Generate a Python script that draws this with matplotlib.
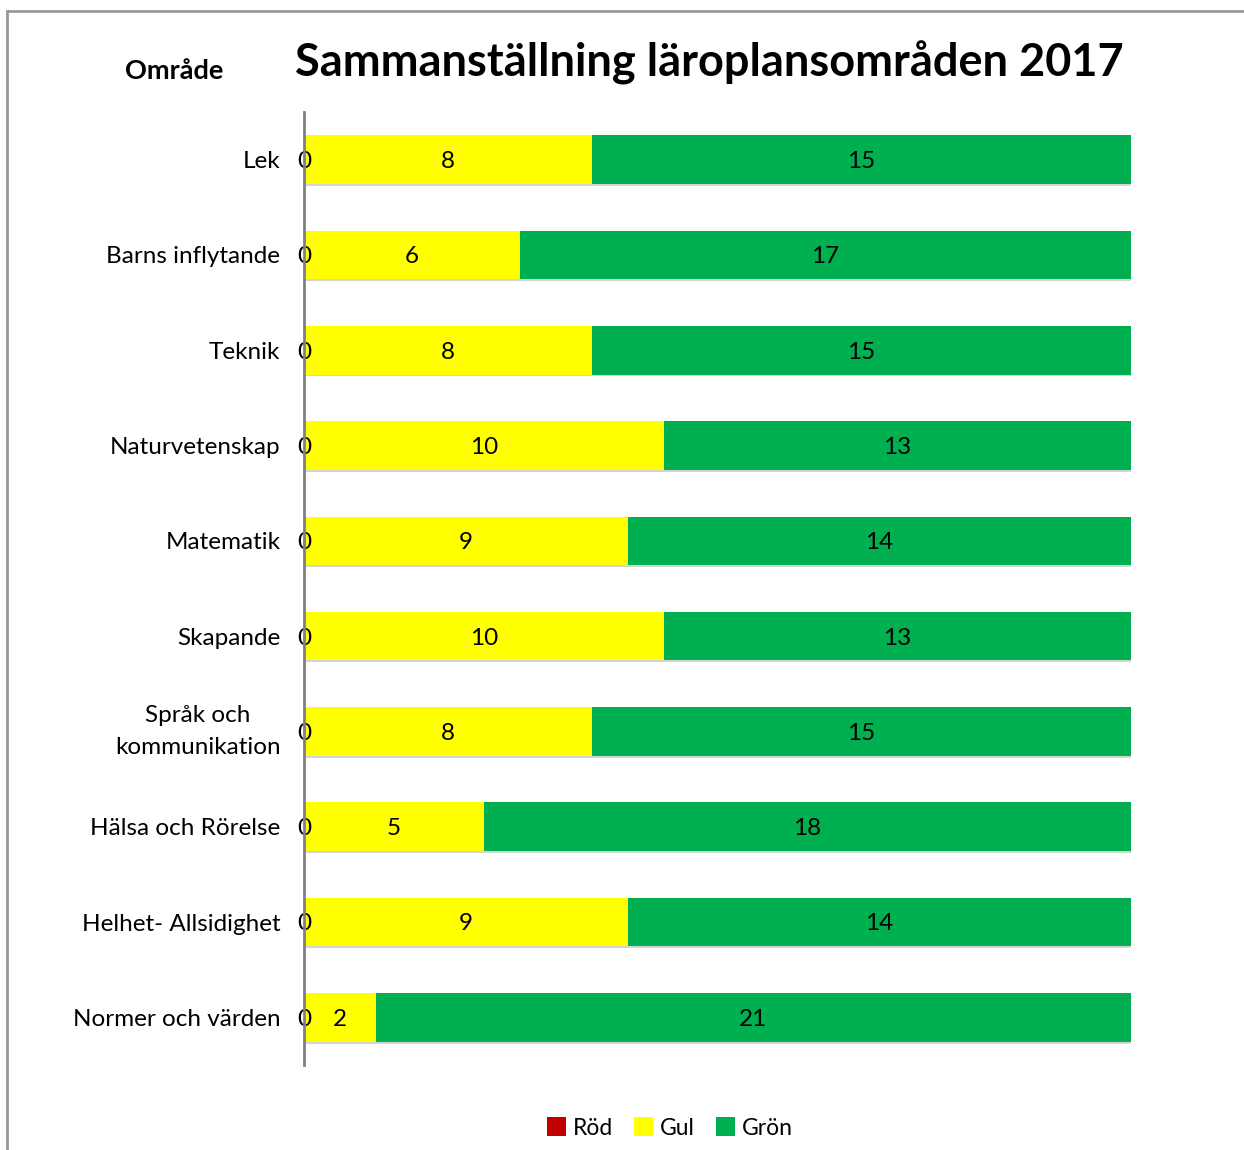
import matplotlib
matplotlib.use("Agg")
import matplotlib.pyplot as plt
from matplotlib.patches import Patch
from matplotlib.lines import Line2D

categories = ["Lek", "Barns inflytande", "Teknik", "Naturvetenskap", "Matematik",
              "Skapande", "Språk och\nkommunikation", "Hälsa och Rörelse",
              "Helhet- Allsidighet", "Normer och värden"]
rod = [0, 0, 0, 0, 0, 0, 0, 0, 0, 0]
gul = [8, 6, 8, 10, 9, 10, 8, 5, 9, 2]
gron = [15, 17, 15, 13, 14, 13, 15, 18, 14, 21]
series_names = ["Röd", "Gul", "Grön"]
colors = ["#C00000", "#FFFF00", "#00B050"]

plt.rcParams['font.family'] = ['Lato', 'DejaVu Sans']

W, H = 1244, 1150
fig = plt.figure(figsize=(W / 100, H / 100), dpi=100)

x0, x1 = 304, 1131
y0, y1 = 112, 1065
ax = fig.add_axes([x0 / W, 1 - y1 / H, (x1 - x0) / W, (y1 - y0) / H])

ypos = list(range(len(categories)))
bh = 0.51
tot = [r + g + gr for r, g, gr in zip(rod, gul, gron)]
ax.barh([y + 0.02 for y in ypos], tot, height=bh, color="#d4d4d4", zorder=1)
left = [0] * len(categories)
for vals, c in zip([rod, gul, gron], colors):
    ax.barh(ypos, vals, left=left, height=bh, color=c, zorder=2)
    for y, v, l in zip(ypos, vals, left):
        ax.text(l + v / 2, y + 0.02, str(v), ha="center", va="center", fontsize=17.5,
                color="black", zorder=4)
    left = [a + b for a, b in zip(left, vals)]

ax.set_xlim(0, 23)
ax.set_ylim(len(categories) - 0.5, -0.5)
ax.set_yticks(ypos)
labels = ax.set_yticklabels(categories, fontsize=17.5, linespacing=1.65, ha="right",
                            multialignment="center")
for lab in labels:
    if "\n" in lab.get_text():
        lab.set_va("center")
ax.tick_params(axis="y", length=0, pad=17)
ax.set_xticks([])
for s in ["top", "right", "bottom"]:
    ax.spines[s].set_visible(False)
ax.spines["left"].set_color("#808080")
ax.spines["left"].set_linewidth(2)
ax.spines["left"].set_zorder(5)

fig.text(709 / W, 1 - 63 / H, "Sammanställning läroplansområden 2017",
         ha="center", va="center", fontsize=32.5, fontweight="bold")
fig.text(174 / W, 1 - 71 / H, "Område", ha="center", va="center",
         fontsize=19.5, fontweight="bold")

handles = [Patch(facecolor=c, edgecolor="none") for c in colors]
fig.legend(handles, series_names, loc="center", bbox_to_anchor=(670 / W, 1 - 1128 / H),
           ncol=3, frameon=False, fontsize=16.5, handlelength=0.85, handleheight=0.85,
           handletextpad=0.3, columnspacing=0.9)

fig.add_artist(Line2D([8 / W, 1], [1 - 11 / H, 1 - 11 / H], color="#999999", lw=2))
fig.add_artist(Line2D([7 / W, 7 / W], [0, 1 - 11 / H], color="#999999", lw=2))

fig.savefig("out.png", dpi=100)
